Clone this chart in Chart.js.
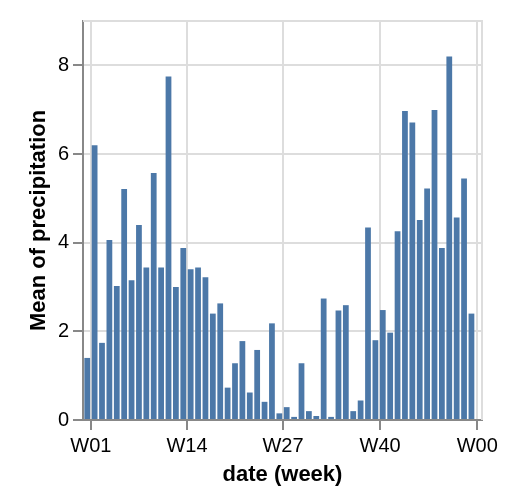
<!DOCTYPE html>
<html>
<head>
<meta charset="utf-8">
<script src="https://cdn.jsdelivr.net/npm/chart.js@4.4.1/dist/chart.umd.min.js"></script>
<style>
html, body { margin: 0; padding: 0; background: #ffffff; }
canvas { display: block; }
</style>
</head>
<body>
<canvas id="chart" width="524" height="504"></canvas>
<script>
// ---- data ----
const weeks = [0,1,2,3,4,5,6,7,8,9,10,11,12,13,14,15,16,17,18,19,20,21,22,23,24,25,26,
               27,28,29,30,31,32,33,34,35,36,37,38,39,40,41,42,43,44,45,46,47,48,49,50,51,52];
const meanPrecipitation = [1.40,6.20,1.74,4.06,3.02,5.21,3.15,4.40,3.44,5.57,3.44,7.75,3.00,3.88,
                           3.40,3.44,3.22,2.40,2.63,0.73,1.28,1.78,0.62,1.58,0.41,2.18,0.15,
                           0.29,0.07,1.28,0.20,0.09,2.74,0.07,2.47,2.59,0.20,0.44,4.34,1.80,
                           2.48,1.97,4.26,6.97,6.71,4.51,5.22,6.99,3.88,8.20,4.57,5.45,2.40];
const xTickDays = [0, 91, 182, 274, 366];           // Jan 1, Apr 1, Jul 1, Oct 1, Jan 1
const xTickLabels = ['W01', 'W14', 'W27', 'W40', 'W00'];
const yTickValues = [0, 2, 4, 6, 8];

// week number -> centre day of that week (week 1 starts on day 0)
const points = weeks.map((w, i) => ({ x: (w - 1) * 7 + 3.5, y: meanPrecipitation[i] }));

const FONT = "'Liberation Sans', Arial, Helvetica, sans-serif";

const framePlugin = {
  id: 'frame',
  beforeDatasetsDraw(chart) {
    const { ctx, chartArea: a } = chart;
    ctx.save();
    ctx.strokeStyle = '#dddddd';
    ctx.lineWidth = 2;
    ctx.beginPath();
    ctx.moveTo(a.left, a.top);
    ctx.lineTo(a.right, a.top);
    ctx.lineTo(a.right, a.bottom);
    ctx.stroke();
    ctx.restore();
  }
};

new Chart(document.getElementById('chart'), {
  type: 'bar',
  data: {
    datasets: [{
      data: points,
      backgroundColor: '#4c78a8',
      borderWidth: 0,
      barPercentage: 0.78,
      categoryPercentage: 1.0
    }]
  },
  options: {
    responsive: false,
    devicePixelRatio: 1,
    animation: false,
    layout: { padding: { top: 21, right: 42, left: 0, bottom: 0 } },
    plugins: { legend: { display: false }, tooltip: { enabled: false } },
    scales: {
      x: {
        type: 'linear',
        min: -7.5,
        max: 370.5,
        offset: false,
        afterBuildTicks(scale) { scale.ticks = xTickDays.map(v => ({ value: v })); },
        afterFit(scale) { scale.height = 84; scale.paddingLeft = 0; scale.paddingRight = 0; },
        ticks: {
          autoSkip: false,
          maxRotation: 0,
          minRotation: 0,
          padding: 4,
          color: '#000000',
          font: { family: FONT, size: 20 },
          callback(value) { const i = xTickDays.indexOf(value); return i >= 0 ? xTickLabels[i] : ''; }
        },
        grid: { color: '#dddddd', lineWidth: 2, tickColor: '#888888', tickLength: 10, offset: false },
        border: { color: '#888888', width: 2 },
        title: {
          display: true,
          text: 'date (week)',
          color: '#000000',
          font: { family: FONT, size: 22, weight: 'bold' },
          padding: { top: 0, bottom: 16 }
        }
      },
      y: {
        type: 'linear',
        min: 0,
        max: 9,
        afterBuildTicks(scale) { scale.ticks = yTickValues.map(v => ({ value: v })); },
        afterFit(scale) { scale.width = 83; scale.paddingTop = 0; scale.paddingBottom = 0; },
        ticks: {
          padding: 4,
          color: '#000000',
          font: { family: FONT, size: 20 }
        },
        grid: { color: '#dddddd', lineWidth: 2, tickColor: '#888888', tickLength: 10 },
        border: { color: '#888888', width: 2 },
        title: {
          display: true,
          text: 'Mean of precipitation',
          color: '#000000',
          font: { family: FONT, size: 22, weight: 'bold' },
          padding: { top: 26, bottom: 0 }
        }
      }
    }
  },
  plugins: [framePlugin]
});
</script>
</body>
</html>
